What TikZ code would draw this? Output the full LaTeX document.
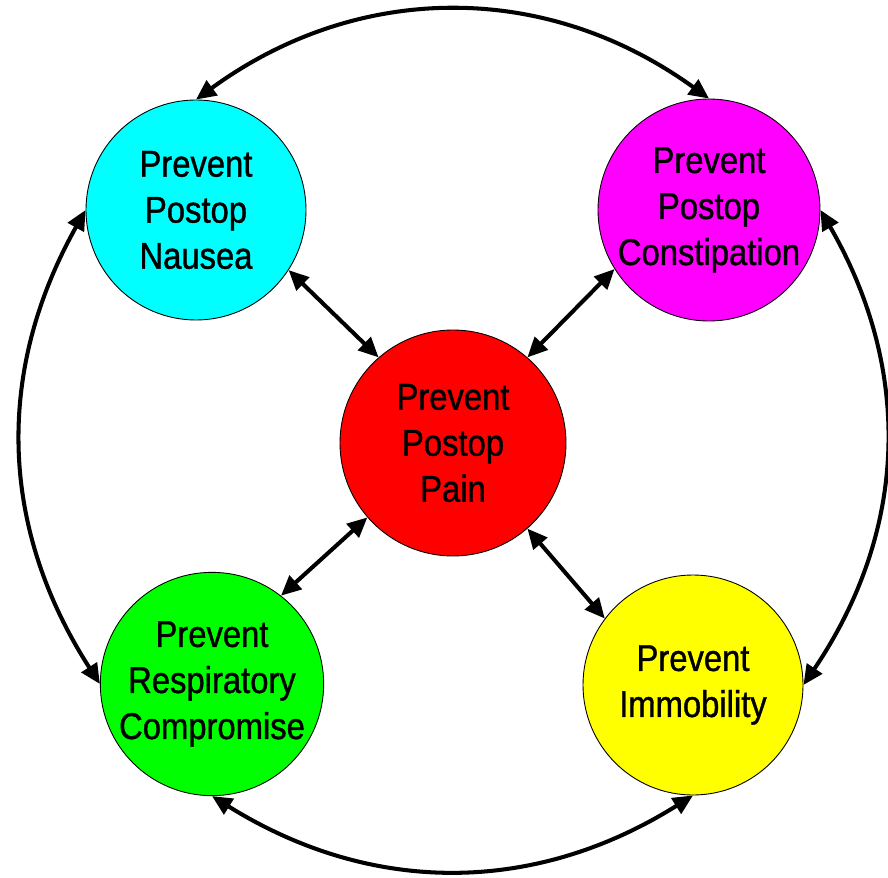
\documentclass[tikz,border=0pt]{standalone}
\usepackage{fontspec}
\setmainfont{Liberation Sans}[FakeStretch=0.88, FakeBold=1]
\usepackage{xcolor}
\usepackage{tikz}
\usetikzlibrary{arrows.meta}
\definecolor{nauseafill}{RGB}{0,255,255}
\definecolor{constfill}{RGB}{255,0,255}
\definecolor{painfill}{RGB}{255,0,0}
\definecolor{respfill}{RGB}{0,255,0}
\definecolor{mobfill}{RGB}{255,255,0}

\begin{document}
\begin{tikzpicture}[
    font=\fontsize{21.2}{26.2}\selectfont,
    goal/.style={circle, draw=black, line width=0.5pt, minimum size=4.4cm,
      inner sep=0pt, align=center},
    link/.style={{Triangle[length=4mm, width=3.6mm]}-{Triangle[length=4mm, width=3.6mm]},
      draw=black, line width=2.3pt}
  ]
    \useasboundingbox (0,0) rectangle (17.76,17.54);
    \node[goal, fill=nauseafill] (nausea) at (3.92,13.34) {Prevent\\Postop\\Nausea};
    \node[goal, fill=constfill, minimum size=4.44cm] (constip) at (14.18,13.34) {Prevent\\Postop\\Constipation};
    \node[goal, fill=painfill, minimum size=4.52cm] (pain) at (9.06,8.68) {Prevent\\Postop\\Pain};
    \node[goal, fill=respfill] (resp) at (4.24,3.86) {Prevent\\Respiratory\\Compromise};
    \node[goal, fill=mobfill] (immob) at (13.86,3.84) {Prevent\\Immobility};
    \draw[link] (nausea.-33) -- (pain.131);
    \draw[link] (constip.212) -- (pain.49);
    \draw[link] (resp.52) -- (pain.221);
    \draw[link] (immob.143) -- (pain.-49);
    \draw[link] (nausea.north) to[bend left=36] (constip.north);
    \draw[link] (constip.east) to[bend left=32] (immob.east);
    \draw[link] (immob.south) to[bend left=32] (resp.south);
    \draw[link] (resp.west) to[bend left=31] (nausea.west);
  \end{tikzpicture}
\end{document}
